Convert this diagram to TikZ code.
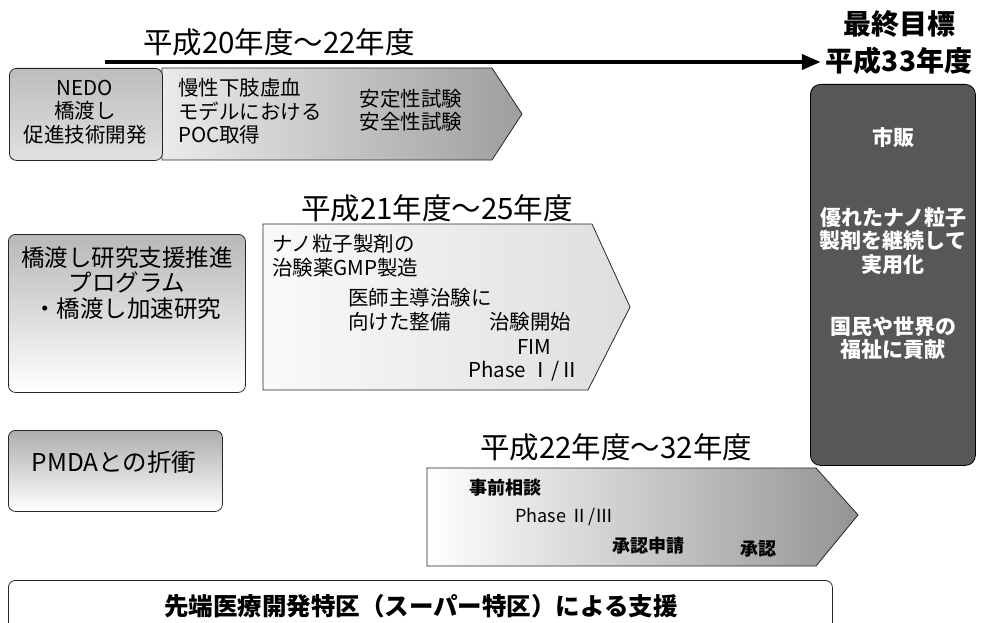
\documentclass[tikz,border=0pt]{standalone}
\usepackage{fontspec}
\setmainfont{Noto Sans CJK JP}
\usetikzlibrary{arrows.meta}
\begin{document}
\begin{tikzpicture}[x=1pt,y=-1pt,
  box/.style={draw=black!85, line width=0.8pt, rounded corners=7pt, inner sep=0pt},
  pent/.style={draw=black!85, line width=0.8pt},
  txt/.style={inner sep=0pt, font=\fontsize{20.5}{23.5}\selectfont, align=center},
  small/.style={inner sep=0pt, font=\fontsize{18}{21}\selectfont},
  smallb/.style={inner sep=0pt, font=\bfseries\fontsize{18}{21}\selectfont},
  ttl/.style={inner sep=0pt, font=\fontsize{29.5}{32}\selectfont},
  goal/.style={inner sep=0pt, font=\bfseries\fontsize{28}{32}\selectfont},
  wtxt/.style={inner sep=0pt, text=white, font=\bfseries\fontsize{21}{23.5}\selectfont, align=center}]
\path[use as bounding box, clip] (0,0) rectangle (985,623);

% ---------- row 1 ----------
\node[ttl] (t1) at (279,42) {平成20年度〜22年度};
\node[goal] (g1) at (899,24) {最終目標};
\node[goal] (g2) at (899,61) {平成33年度};
\coordinate (ts) at (105,62);
\draw[line width=4pt, shorten >=5pt, -{Triangle[length=19pt,width=15pt]}] (ts) -- (ts -| g2.west);

\path[pent, left color=black!8, right color=black!38] (162,68) -- (492,68) -- (522,114) -- (492,160) -- (162,160) -- cycle;
\node[box, top color=black!26, bottom color=black!12, minimum width=153pt, minimum height=92pt, anchor=north west] (nedo) at (9,68) {};
\node[txt] (n1) at (85,88) {NEDO};
\node[txt] (n2) at (85,111) {橋渡し};
\node[txt] (n3) at (85,135) {促進技術開発};
\node[txt, anchor=west] (p1) at (178,88) {慢性下肢虚血};
\node[txt, anchor=west] (p2) at (178,111) {モデルにおける};
\node[txt, anchor=west] (p3) at (178,135) {POC取得};
\node[txt] (s1) at (411,99) {安定性試験};
\node[txt] (s2) at (411,122) {安全性試験};

% ---------- goal box ----------
\node[box, rounded corners=10pt, fill=black!66, draw=black, minimum width=165pt, minimum height=381pt, anchor=north west] (goalbox) at (810,84) {};
\node[wtxt] (w1) at (893,138) {市販};
\node[wtxt] (w2) at (893,241) {優れたナノ粒子\\製剤を継続して\\実用化};
\node[wtxt] (w3) at (893,338) {国民や世界の\\福祉に貢献};

% ---------- row 2 ----------
\node[box, top color=black!28, bottom color=white, minimum width=237pt, minimum height=158pt, anchor=north west] (hb) at (8,234) {};
\node[txt, font=\fontsize{23.5}{25.5}\selectfont] (hbt) at (127,283) {橋渡し研究支援推進\\プログラム\\・橋渡し加速研究};

\node[ttl] (t2) at (437,208) {平成21年度〜25年度};
\path[pent, left color=black!2, right color=black!13] (263,224) -- (592,224) -- (630,307) -- (588,390) -- (263,390) -- cycle;
\node[txt, anchor=west] (q1) at (272,244) {ナノ粒子製剤の};
\node[txt, anchor=west] (q2) at (272,268) {治験薬GMP製造};
\node[txt, anchor=west] (q3) at (348,298) {医師主導治験に};
\node[txt, anchor=west] (q4) at (348,322) {向けた整備};
\node[txt] (q5) at (530,322) {治験開始};
\node[txt] (q6) at (534,347) {FIM};
\node[txt] (q7) at (524,371) {Phase Ⅰ/Ⅱ};

% ---------- row 3 ----------
\node[box, top color=black!32, bottom color=white, minimum width=214pt, minimum height=81pt, anchor=north west] (pmda) at (8,430) {};
\node[txt, font=\fontsize{24.5}{27}\selectfont] (pm) at (114,462) {PMDAとの折衝};

\node[ttl] (t3) at (616,447) {平成22年度〜32年度};
\path[pent, left color=white, right color=black!42] (427,468) -- (816,468) -- (858,515) -- (816,566) -- (427,566) -- cycle;
\node[smallb, anchor=west] (r1) at (469,488) {事前相談};
\node[small, anchor=west] (r2) at (515,517) {Phase Ⅱ/Ⅲ};
\node[smallb, anchor=west] (r3) at (612,546) {承認申請};
\node[smallb, anchor=west] (r4) at (740,549) {承認};

% ---------- bottom ----------
\node[box, fill=white, minimum width=824pt, minimum height=60pt, anchor=north west] (sup) at (8,580) {};
\node[txt, font=\bfseries\fontsize{24.5}{26}\selectfont] (supt) at (421,606) {先端医療開発特区（スーパー特区）による支援};
\end{tikzpicture}
\end{document}
